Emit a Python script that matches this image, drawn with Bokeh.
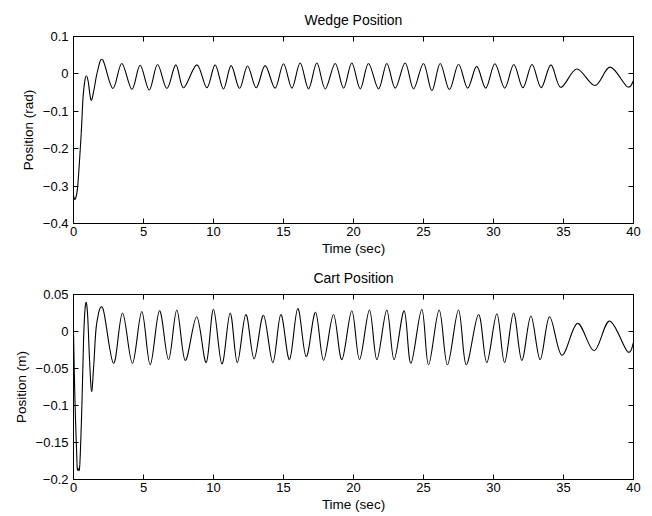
from bokeh.plotting import figure
from bokeh.layouts import column
from bokeh.models import Range1d, LinearAxis, FixedTicker, ColumnDataSource, CustomLabelingPolicy
from bokeh.embed import file_html
from bokeh.resources import INLINE

# ---- data (extrema / key points) ----
wedge_time = [0.0, 0.12, 0.3, 0.55, 0.67, 0.8, 0.92, 1.05, 1.25, 1.45, 1.7, 2.08,
              2.81, 3.45, 4.17, 4.76, 5.41, 6.0, 6.67, 7.31, 7.86, 8.81, 9.53, 10.12,
              10.71, 11.26, 11.86, 12.43, 13.05, 13.69, 14.4, 15.0, 15.6, 16.19, 16.79,
              17.38, 17.98, 18.69, 19.29, 19.88, 20.48, 21.07, 21.79, 22.38, 22.98, 23.69,
              24.29, 25.0, 25.6, 26.19, 26.85, 27.5, 28.15, 28.8, 29.45, 30.1, 30.8, 31.45,
              32.1, 32.75, 33.4, 34.1, 34.8, 35.95, 37.25, 38.33, 39.55, 40.0]
wedge_pos = [-0.325, -0.335, -0.30, -0.16, -0.07, -0.02, -0.005, -0.02, -0.07, -0.045, 0.005, 0.038,
             -0.039, 0.028, -0.041, 0.023, -0.043, 0.025, -0.039, 0.024, -0.037, 0.024, -0.037, 0.024,
             -0.040, 0.022, -0.039, 0.021, -0.037, 0.022, -0.038, 0.027, -0.038, 0.029, -0.040,
             0.029, -0.040, 0.028, -0.038, 0.029, -0.040, 0.028, -0.040, 0.028, -0.038, 0.029,
             -0.040, 0.028, -0.045, 0.028, -0.042, 0.026, -0.038, 0.020, -0.038, 0.027, -0.038, 0.025,
             -0.037, 0.025, -0.037, 0.024, -0.036, 0.013, -0.031, 0.018, -0.034, -0.018]

cart_time = [0.0, 0.1, 0.25, 0.33, 0.45, 0.6, 0.72, 0.86, 1.0, 1.15, 1.29, 1.45, 1.65, 2.1,
             2.86, 3.5, 4.21, 4.88, 5.48, 6.14, 6.79, 7.38, 7.98, 8.8, 9.48, 10.0, 10.6, 11.19,
             11.7, 12.31, 12.9, 13.57, 14.24, 14.81, 15.43, 16.02, 16.62, 17.29, 17.86, 18.57,
             19.17, 19.88, 20.43, 21.14, 21.67, 22.38, 22.9, 23.62, 24.1, 24.88, 25.36, 26.12,
             26.71, 27.5, 28.05, 28.93, 29.52, 30.24, 30.79, 31.43, 32.02, 32.67, 33.33, 34.0,
             34.88, 36.0, 37.19, 38.29, 39.57, 40.0]
cart_pos = [0.0, -0.09, -0.178, -0.185, -0.18, -0.10, -0.01, 0.037, 0.025, -0.04, -0.081, -0.045, 0.01, 0.031,
            -0.043, 0.025, -0.043, 0.027, -0.045, 0.028, -0.038, 0.029, -0.039, 0.020, -0.042, 0.030, -0.044, 0.025,
            -0.042, 0.023, -0.037, 0.022, -0.042, 0.023, -0.038, 0.031, -0.034, 0.026, -0.039, 0.023,
            -0.038, 0.028, -0.038, 0.029, -0.038, 0.029, -0.038, 0.028, -0.043, 0.030, -0.045, 0.029,
            -0.045, 0.029, -0.045, 0.023, -0.042, 0.024, -0.042, 0.025, -0.039, 0.021, -0.038, 0.020,
            -0.032, 0.011, -0.026, 0.014, -0.027, -0.015]

x_ticks = [0, 5, 10, 15, 20, 25, 30, 35, 40]
x_tick_labels = ["0", "5", "10", "15", "20", "25", "30", "35", "40"]
wedge_y_ticks = [-0.4, -0.3, -0.2, -0.1, 0, 0.1]
wedge_y_labels = ["\u22120.4", "\u22120.3", "\u22120.2", "\u22120.1", "0", "0.1"]
cart_y_ticks = [-0.2, -0.15, -0.1, -0.05, 0, 0.05]
cart_y_labels = ["\u22120.2", "\u22120.15", "\u22120.1", "\u22120.05", "0", "0.05"]

FONT = "Liberation Sans"


def smooth_source(xs, ys):
    """Catmull-Rom curve through the read points, drawn as Bezier segments."""
    n = len(xs)
    d = dict(x0=[], y0=[], x1=[], y1=[], cx0=[], cy0=[], cx1=[], cy1=[])
    for i in range(n - 1):
        a = max(i - 1, 0)
        b = min(i + 2, n - 1)
        d["x0"].append(xs[i]); d["y0"].append(ys[i])
        d["x1"].append(xs[i + 1]); d["y1"].append(ys[i + 1])
        d["cx0"].append(xs[i] + (xs[i + 1] - xs[a]) / 6.0)
        d["cy0"].append(ys[i] + (ys[i + 1] - ys[a]) / 6.0)
        d["cx1"].append(xs[i + 1] - (xs[b] - xs[i]) / 6.0)
        d["cy1"].append(ys[i + 1] - (ys[b] - ys[i]) / 6.0)
    return ColumnDataSource(d)


def style_axis(ax, ticks, labels, show_labels=True, label_standoff=4, axis_standoff=3):
    ax.ticker = FixedTicker(ticks=ticks)
    ax.axis_line_color = "black"
    ax.major_tick_line_color = "black"
    ax.major_tick_in = 5
    ax.major_tick_out = 0
    ax.minor_tick_line_color = None
    ax.major_label_text_font = FONT
    ax.major_label_text_color = "black"
    ax.axis_label_text_font = FONT
    ax.axis_label_text_font_size = "13.5px"
    ax.axis_label_text_font_style = "normal"
    ax.axis_label_text_color = "black"
    if show_labels:
        ax.major_label_overrides = {t: l for t, l in zip(ticks, labels)}
        ax.major_label_text_font_size = "13px"
        ax.major_label_standoff = label_standoff
        ax.axis_label_standoff = axis_standoff
    else:
        ax.major_label_text_font_size = "1px"
        ax.major_label_standoff = 0
        ax.major_label_policy = CustomLabelingPolicy(
            code="for (const i of Array.from(indices)) { indices.unset(i) }\nreturn indices")


def make_fig(title, ylabel, xs, ys, yr, yticks, ylabels, height, top_b, bottom_b, title_standoff):
    p = figure(width=648, height=height, x_range=Range1d(0, 40), y_range=Range1d(*yr),
               output_backend="svg", toolbar_location=None, title=title,
               min_border_left=73, min_border_right=15,
               min_border_top=top_b, min_border_bottom=bottom_b)
    p.title.align = "center"
    p.title.text_font = FONT
    p.title.text_font_size = "14px"
    p.title.text_font_style = "normal"
    p.title.text_color = "black"
    p.title.standoff = title_standoff
    p.xgrid.visible = False
    p.ygrid.visible = False
    p.outline_line_color = "black"
    p.background_fill_color = "white"
    p.border_fill_color = "white"

    style_axis(p.below[0], x_ticks, x_tick_labels, label_standoff=3, axis_standoff=2)
    p.below[0].axis_label = "Time (sec)"
    style_axis(p.left[0], yticks, ylabels, label_standoff=5, axis_standoff=4)
    p.left[0].axis_label = ylabel

    top_ax = LinearAxis()
    style_axis(top_ax, x_ticks, x_tick_labels, show_labels=False)
    p.add_layout(top_ax, "above")
    right_ax = LinearAxis()
    style_axis(right_ax, yticks, ylabels, show_labels=False)
    p.add_layout(right_ax, "right")

    src = smooth_source(xs, ys)
    p.bezier(x0="x0", y0="y0", x1="x1", y1="y1", cx0="cx0", cy0="cy0",
             cx1="cx1", cy1="cy1", source=src, line_color="black", line_width=1.1)
    return p


p1 = make_fig("Wedge Position", "Position (rad)", wedge_time, wedge_pos, (-0.4, 0.1),
              wedge_y_ticks, wedge_y_labels, 262, 36, 39, 10)
p2 = make_fig("Cart Position", "Position (m)", cart_time, cart_pos, (-0.2, 0.05),
              cart_y_ticks, cart_y_labels, 254, 30, 37, 10)

layout = column(p1, p2, spacing=0)
open("out.html", "w").write(file_html(layout, INLINE))
